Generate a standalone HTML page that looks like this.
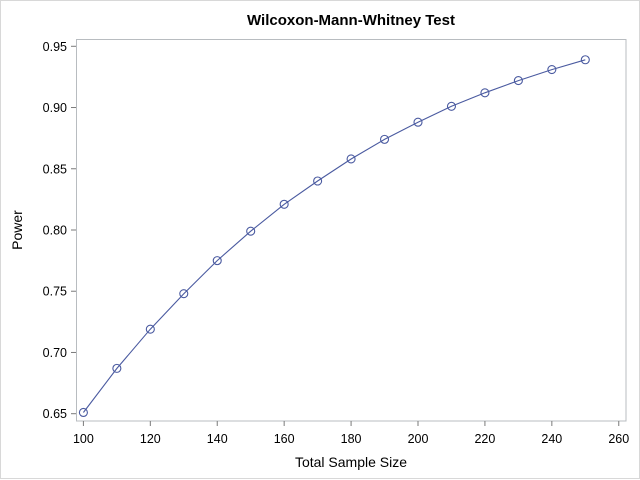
<!DOCTYPE html>
<html><head><meta charset="utf-8"><style>
html,body{margin:0;padding:0;background:#fff}
svg{display:block}
text{font-family:"Liberation Sans",Arial,sans-serif;fill:#000}
</style></head><body>
<svg width="640" height="480" viewBox="0 0 640 480" xmlns="http://www.w3.org/2000/svg">
<rect x="0.5" y="0.5" width="639" height="478" fill="#fff" stroke="#d8d8d8"/>
<text x="351" y="25" font-size="15" font-weight="bold" text-anchor="middle">Wilcoxon-Mann-Whitney Test</text>
<rect x="76.5" y="39.5" width="549.5" height="381.5" fill="#fff" stroke="#b8bcc0"/>
<g stroke="#7a7a7a" stroke-width="1" id="ticks"></g>
<g font-size="12.5" id="labels"></g>
<text x="351" y="467" font-size="14" text-anchor="middle">Total Sample Size</text>
<text transform="translate(22,230) rotate(-90)" font-size="14" text-anchor="middle">Power</text>
<g id="series" fill="none" stroke="#4a5aa0" stroke-width="1.1"></g>
<script>
(function(){
var ns="http://www.w3.org/2000/svg";
function X(v){return 83.4+(v-100)*3.346;}
function Y(v){return 413.7-(v-0.65)*1224.7;}
var t=document.getElementById('ticks'),l=document.getElementById('labels'),s=document.getElementById('series');
function el(p,n,a){var e=document.createElementNS(ns,n);for(var k in a)e.setAttribute(k,a[k]);p.appendChild(e);return e;}
for(var v=100;v<=260;v+=20){var x=X(v);el(t,'line',{x1:x,x2:x,y1:421,y2:426});var tx=el(l,'text',{x:x,y:443,'text-anchor':'middle'});tx.textContent=v;}
var ys=[0.65,0.70,0.75,0.80,0.85,0.90,0.95];
ys.forEach(function(v){var y=Y(v);el(t,'line',{x1:71,x2:76,y1:y,y2:y});var tx=el(l,'text',{x:67,y:y+4.5,'text-anchor':'end'});tx.textContent=v.toFixed(2);});
var d=[0.651,0.687,0.719,0.748,0.775,0.799,0.821,0.840,0.858,0.874,0.888,0.901,0.912,0.922,0.931,0.939];
var pts=d.map(function(p,i){return X(100+10*i).toFixed(1)+','+Y(p).toFixed(1);});
el(s,'polyline',{points:pts.join(' ')});
d.forEach(function(p,i){el(s,'circle',{cx:X(100+10*i),cy:Y(p),r:4});});
})();
</script>
</svg>
</body></html>
